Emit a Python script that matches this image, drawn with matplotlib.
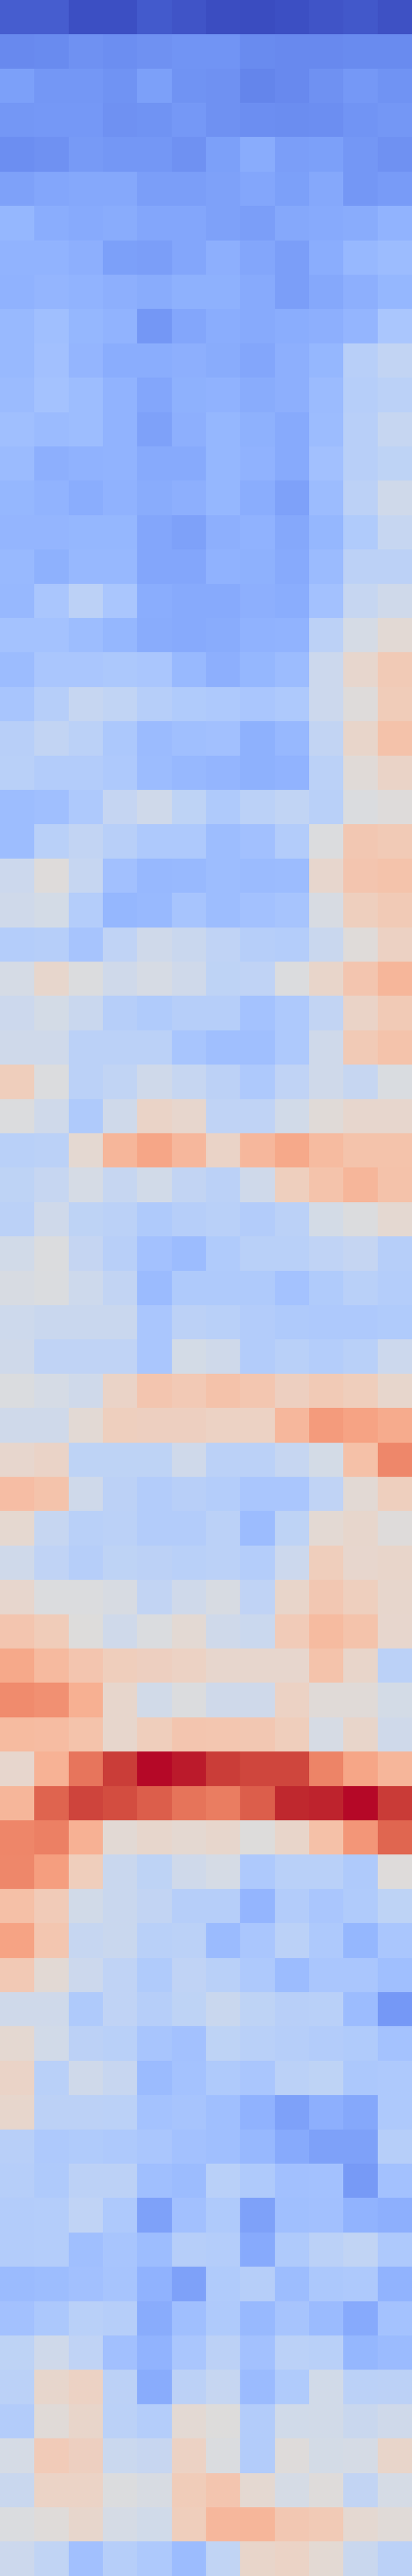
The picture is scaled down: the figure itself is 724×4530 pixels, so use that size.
import matplotlib
matplotlib.use("Agg")
import matplotlib.pyplot as plt
import numpy as np

# heatmap rows, top to bottom, 12 columns each
rows_00_12 = [
    [0.04, 0.04, 0.01, 0.01, 0.035, 0.02, 0.005, 0.0, 0.01, 0.02, 0.03, 0.015],
    [0.145, 0.15, 0.165, 0.16, 0.165, 0.175, 0.175, 0.15, 0.145, 0.145, 0.15, 0.15],
    [0.205, 0.18, 0.18, 0.17, 0.205, 0.17, 0.165, 0.135, 0.145, 0.165, 0.185, 0.17],
    [0.18, 0.185, 0.185, 0.165, 0.17, 0.185, 0.165, 0.16, 0.155, 0.16, 0.175, 0.18],
    [0.16, 0.165, 0.19, 0.18, 0.18, 0.165, 0.205, 0.24, 0.20, 0.205, 0.18, 0.165],
    [0.21, 0.225, 0.23, 0.23, 0.20, 0.20, 0.21, 0.225, 0.205, 0.23, 0.18, 0.195],
    [0.275, 0.245, 0.235, 0.24, 0.225, 0.225, 0.21, 0.20, 0.23, 0.235, 0.24, 0.265],
    [0.265, 0.265, 0.25, 0.205, 0.20, 0.225, 0.25, 0.225, 0.20, 0.245, 0.28, 0.295],
    [0.26, 0.27, 0.265, 0.25, 0.24, 0.255, 0.255, 0.235, 0.20, 0.23, 0.25, 0.275],
    [0.285, 0.305, 0.275, 0.265, 0.18, 0.225, 0.245, 0.235, 0.245, 0.25, 0.27, 0.335],
    [0.285, 0.31, 0.27, 0.245, 0.245, 0.25, 0.24, 0.225, 0.25, 0.275, 0.375, 0.41],
    [0.29, 0.32, 0.30, 0.265, 0.225, 0.255, 0.26, 0.24, 0.25, 0.29, 0.37, 0.385],
    [0.305, 0.29, 0.30, 0.265, 0.21, 0.25, 0.275, 0.255, 0.235, 0.295, 0.375, 0.42],
]
rows_13_24 = [
    [0.29, 0.25, 0.26, 0.265, 0.235, 0.235, 0.275, 0.26, 0.235, 0.31, 0.375, 0.395],
    [0.275, 0.265, 0.245, 0.26, 0.24, 0.25, 0.275, 0.245, 0.21, 0.295, 0.39, 0.45],
    [0.27, 0.27, 0.275, 0.275, 0.225, 0.21, 0.25, 0.26, 0.23, 0.275, 0.355, 0.42],
    [0.285, 0.255, 0.28, 0.28, 0.225, 0.225, 0.26, 0.255, 0.235, 0.29, 0.39, 0.39],
    [0.28, 0.335, 0.39, 0.335, 0.245, 0.235, 0.235, 0.25, 0.245, 0.315, 0.42, 0.45],
    [0.32, 0.32, 0.30, 0.275, 0.24, 0.235, 0.24, 0.26, 0.265, 0.39, 0.47, 0.52],
    [0.295, 0.335, 0.335, 0.34, 0.335, 0.285, 0.25, 0.275, 0.295, 0.44, 0.54, 0.60],
    [0.33, 0.37, 0.42, 0.405, 0.37, 0.355, 0.345, 0.335, 0.345, 0.44, 0.505, 0.59],
    [0.375, 0.41, 0.385, 0.34, 0.29, 0.305, 0.31, 0.255, 0.28, 0.41, 0.55, 0.63],
    [0.38, 0.36, 0.36, 0.345, 0.295, 0.28, 0.27, 0.255, 0.265, 0.385, 0.515, 0.555],
    [0.30, 0.305, 0.345, 0.415, 0.45, 0.395, 0.35, 0.385, 0.405, 0.38, 0.49, 0.505],
    [0.30, 0.38, 0.41, 0.375, 0.345, 0.345, 0.30, 0.31, 0.36, 0.495, 0.61, 0.60],
]
rows_25_36 = [
    [0.44, 0.505, 0.42, 0.31, 0.28, 0.285, 0.30, 0.29, 0.295, 0.54, 0.62, 0.625],
    [0.45, 0.465, 0.365, 0.275, 0.285, 0.325, 0.30, 0.315, 0.325, 0.48, 0.58, 0.60],
    [0.365, 0.37, 0.325, 0.40, 0.45, 0.43, 0.40, 0.37, 0.365, 0.43, 0.51, 0.57],
    [0.47, 0.545, 0.495, 0.45, 0.475, 0.45, 0.395, 0.40, 0.495, 0.55, 0.62, 0.67],
    [0.44, 0.465, 0.43, 0.37, 0.355, 0.37, 0.37, 0.32, 0.345, 0.41, 0.555, 0.60],
    [0.45, 0.45, 0.385, 0.385, 0.385, 0.33, 0.305, 0.305, 0.345, 0.45, 0.60, 0.625],
    [0.585, 0.495, 0.385, 0.405, 0.45, 0.42, 0.39, 0.345, 0.40, 0.45, 0.42, 0.485],
    [0.495, 0.45, 0.35, 0.45, 0.555, 0.54, 0.40, 0.40, 0.46, 0.515, 0.54, 0.54],
    [0.38, 0.385, 0.53, 0.67, 0.715, 0.665, 0.555, 0.665, 0.71, 0.655, 0.625, 0.625],
    [0.395, 0.42, 0.47, 0.42, 0.46, 0.41, 0.385, 0.45, 0.58, 0.625, 0.67, 0.63],
    [0.385, 0.45, 0.395, 0.385, 0.35, 0.37, 0.38, 0.36, 0.385, 0.465, 0.495, 0.53],
    [0.46, 0.495, 0.415, 0.375, 0.315, 0.295, 0.355, 0.38, 0.38, 0.40, 0.415, 0.37],
]
rows_37_49 = [
    [0.48, 0.49, 0.445, 0.41, 0.29, 0.35, 0.35, 0.35, 0.32, 0.355, 0.38, 0.365],
    [0.445, 0.43, 0.43, 0.43, 0.335, 0.39, 0.38, 0.36, 0.35, 0.345, 0.345, 0.355],
    [0.45, 0.40, 0.40, 0.40, 0.335, 0.465, 0.45, 0.36, 0.38, 0.365, 0.38, 0.44],
    [0.49, 0.47, 0.45, 0.555, 0.62, 0.605, 0.63, 0.615, 0.575, 0.60, 0.585, 0.545],
    [0.45, 0.45, 0.52, 0.58, 0.575, 0.575, 0.565, 0.565, 0.665, 0.745, 0.725, 0.70],
    [0.54, 0.555, 0.395, 0.395, 0.395, 0.45, 0.385, 0.385, 0.42, 0.465, 0.635, 0.79],
    [0.645, 0.625, 0.45, 0.39, 0.36, 0.375, 0.365, 0.335, 0.335, 0.40, 0.52, 0.58],
    [0.535, 0.42, 0.38, 0.385, 0.36, 0.36, 0.385, 0.295, 0.395, 0.525, 0.545, 0.505],
    [0.45, 0.40, 0.37, 0.395, 0.39, 0.38, 0.385, 0.365, 0.44, 0.585, 0.54, 0.55],
    [0.54, 0.495, 0.495, 0.48, 0.41, 0.45, 0.48, 0.40, 0.55, 0.61, 0.58, 0.545],
    [0.62, 0.59, 0.50, 0.45, 0.49, 0.525, 0.45, 0.435, 0.595, 0.655, 0.625, 0.54],
    [0.71, 0.66, 0.62, 0.585, 0.575, 0.565, 0.54, 0.54, 0.54, 0.625, 0.55, 0.385],
    [0.785, 0.77, 0.69, 0.545, 0.46, 0.495, 0.45, 0.45, 0.565, 0.515, 0.515, 0.465],
]
rows_50_61 = [
    [0.655, 0.65, 0.625, 0.545, 0.585, 0.62, 0.615, 0.61, 0.585, 0.475, 0.55, 0.45],
    [0.54, 0.68, 0.83, 0.935, 0.995, 0.98, 0.935, 0.92, 0.92, 0.80, 0.715, 0.67],
    [0.67, 0.865, 0.925, 0.91, 0.875, 0.835, 0.815, 0.875, 0.965, 0.97, 0.995, 0.94],
    [0.795, 0.805, 0.685, 0.52, 0.545, 0.53, 0.545, 0.50, 0.55, 0.635, 0.755, 0.86],
    [0.79, 0.735, 0.585, 0.43, 0.395, 0.45, 0.47, 0.345, 0.38, 0.38, 0.35, 0.505],
    [0.64, 0.595, 0.46, 0.43, 0.41, 0.37, 0.37, 0.27, 0.36, 0.335, 0.355, 0.395],
    [0.725, 0.615, 0.42, 0.43, 0.38, 0.385, 0.29, 0.335, 0.385, 0.345, 0.275, 0.335],
    [0.605, 0.52, 0.44, 0.40, 0.355, 0.40, 0.38, 0.345, 0.295, 0.335, 0.335, 0.305],
    [0.45, 0.45, 0.35, 0.40, 0.37, 0.395, 0.43, 0.395, 0.375, 0.38, 0.295, 0.185],
    [0.53, 0.46, 0.39, 0.38, 0.33, 0.315, 0.395, 0.38, 0.37, 0.36, 0.355, 0.32],
    [0.555, 0.38, 0.45, 0.425, 0.29, 0.32, 0.35, 0.335, 0.385, 0.395, 0.34, 0.345],
    [0.545, 0.39, 0.39, 0.385, 0.32, 0.325, 0.305, 0.26, 0.21, 0.25, 0.23, 0.345],
]
rows_62_74 = [
    [0.375, 0.345, 0.355, 0.345, 0.335, 0.315, 0.305, 0.28, 0.235, 0.21, 0.21, 0.37],
    [0.37, 0.35, 0.39, 0.39, 0.305, 0.295, 0.38, 0.35, 0.31, 0.315, 0.19, 0.315],
    [0.36, 0.365, 0.40, 0.345, 0.21, 0.31, 0.35, 0.21, 0.305, 0.31, 0.265, 0.25],
    [0.36, 0.365, 0.305, 0.33, 0.30, 0.37, 0.365, 0.235, 0.35, 0.385, 0.405, 0.345],
    [0.29, 0.30, 0.31, 0.325, 0.26, 0.21, 0.355, 0.37, 0.30, 0.34, 0.345, 0.265],
    [0.315, 0.34, 0.38, 0.37, 0.24, 0.305, 0.35, 0.285, 0.325, 0.29, 0.235, 0.32],
    [0.395, 0.45, 0.40, 0.31, 0.265, 0.335, 0.39, 0.315, 0.385, 0.38, 0.275, 0.29],
    [0.385, 0.545, 0.565, 0.39, 0.24, 0.39, 0.42, 0.29, 0.355, 0.46, 0.385, 0.39],
    [0.36, 0.515, 0.55, 0.385, 0.365, 0.525, 0.50, 0.36, 0.455, 0.46, 0.43, 0.45],
    [0.47, 0.595, 0.575, 0.435, 0.425, 0.565, 0.49, 0.36, 0.505, 0.465, 0.47, 0.55],
    [0.43, 0.56, 0.56, 0.495, 0.48, 0.59, 0.62, 0.53, 0.47, 0.505, 0.41, 0.47],
    [0.49, 0.51, 0.545, 0.47, 0.455, 0.585, 0.665, 0.67, 0.61, 0.60, 0.53, 0.515],
    [0.44, 0.405, 0.31, 0.37, 0.345, 0.295, 0.405, 0.55, 0.56, 0.525, 0.43, 0.385],
]

values = np.array(rows_00_12 + rows_13_24 + rows_25_36 + rows_37_49 + rows_50_61 + rows_62_74)

fig = plt.figure(figsize=(7.24, 45.30), dpi=100)
ax = fig.add_axes([0, 0, 1, 1])
ax.imshow(values, cmap="coolwarm", vmin=0, vmax=1, aspect="auto", interpolation="nearest")
ax.axis("off")
fig.savefig("out.png", dpi=100)
